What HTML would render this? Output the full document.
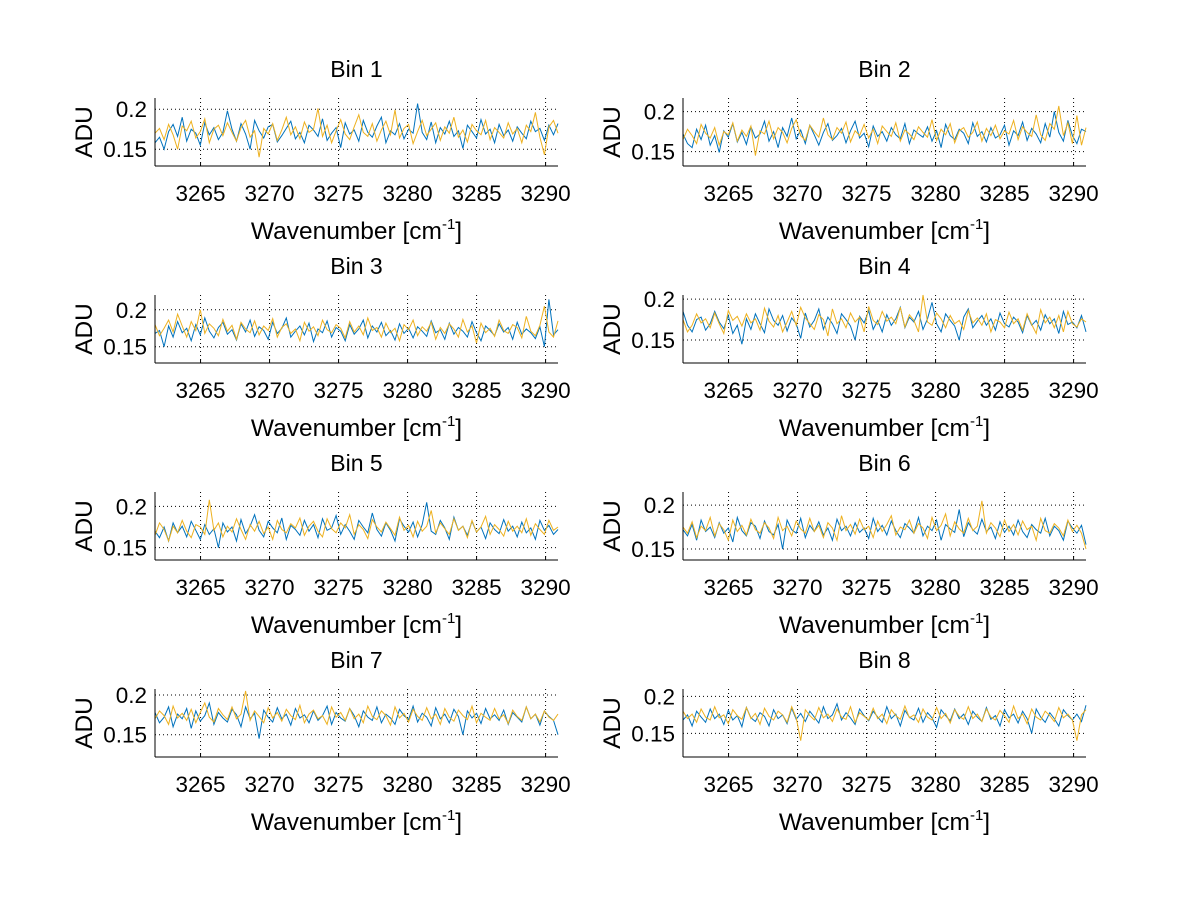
<!DOCTYPE html>
<html><head><meta charset="utf-8"><style>
body{margin:0;background:#fff;font-family:"Liberation Sans",sans-serif;}
svg text{font-family:"Liberation Sans",sans-serif;fill:#000;}
</style></head><body>
<svg id="fig" width="1200" height="901" xmlns="http://www.w3.org/2000/svg"></svg>
<script>
// values in units of 1e-3 ADU
const xTicks = [3265,3270,3275,3280,3285,3290];
const yTicks = [0.15,0.2];
const xMin = 3261.7, xMax = 3290.9;
const binTitles = ["Bin 1","Bin 2","Bin 3","Bin 4","Bin 5","Bin 6","Bin 7","Bin 8"];
const yLimits = [[0.129,0.214],[0.132,0.217],[0.128,0.22],[0.122,0.205],[0.135,0.2175],[0.1375,0.215],[0.122,0.2075],[0.118,0.21]];
const blue1=[158,165,150,172,181,166,190,160,175,170,155,183,168,177,162,171,198,175,160,182,169,150,186,173,164,178,181,159,167,176,185,163,171,158,180,174,166,188,161,170,177,152,183,169,174,160,186,171,165,179,190,158,173,168,182,163,175,170,207,171,162,184,158,177,169,185,166,173,151,180,172,164,187,169,175,158,181,167,174,160,178,170,163,185,172,176,161,180,168,182];
const orange1=[170,176,162,181,168,150,179,173,185,164,172,188,158,175,180,167,183,171,160,177,186,165,173,140,176,169,182,161,174,190,168,178,163,184,171,175,201,166,180,158,173,187,169,162,178,193,171,166,182,160,174,185,168,199,164,176,181,157,172,186,167,175,183,161,178,170,190,165,174,159,181,173,168,186,162,177,171,164,183,169,176,158,180,172,196,165,143,178,186,170];
const blue2=[172,160,155,178,165,183,158,170,149,176,168,185,162,174,159,181,167,172,188,163,175,155,180,169,192,166,177,160,183,171,158,174,185,164,170,179,161,176,188,167,173,156,182,169,175,163,180,171,166,185,160,177,172,168,181,163,176,155,184,170,165,178,173,160,186,169,175,162,180,167,171,183,158,176,170,187,164,179,172,161,185,168,200,174,163,189,170,160,178,175];
const orange2=[165,178,170,160,184,173,167,180,158,175,171,186,163,177,169,182,145,176,172,188,166,180,174,161,179,190,170,164,183,175,168,192,171,165,180,173,187,162,176,170,184,167,178,160,182,175,169,186,163,177,172,165,181,174,168,190,164,178,171,185,161,176,180,168,174,187,163,179,170,183,166,176,172,189,165,181,174,169,196,171,164,185,178,207,170,186,160,195,158,180];
const blue3=[168,172,150,178,163,184,169,175,158,180,166,189,171,162,176,183,167,173,159,181,170,186,164,177,172,160,183,168,175,189,163,171,178,166,182,157,174,169,185,163,176,171,158,180,167,174,186,162,178,170,183,165,172,159,181,168,175,162,177,171,164,185,169,173,160,182,167,176,171,163,184,169,158,178,172,165,181,170,176,160,183,167,174,169,161,177,150,214,166,173];
const orange3=[180,165,175,186,170,194,178,163,184,172,200,168,181,175,165,187,171,179,160,183,174,169,185,166,178,172,188,163,176,181,168,174,158,183,171,177,165,186,173,169,180,175,162,184,170,178,166,189,172,176,163,182,169,175,158,180,173,186,165,177,171,183,160,176,168,181,174,163,187,170,178,155,182,169,175,164,186,172,168,180,176,162,191,171,165,179,205,170,163,185];
const blue4=[185,168,160,175,178,162,170,185,172,164,180,158,168,145,176,163,182,170,159,188,174,168,180,161,177,170,152,183,166,174,188,163,178,170,158,182,175,167,150,179,171,186,163,174,160,181,168,176,190,165,178,172,185,163,176,196,170,160,182,174,167,150,178,188,165,173,180,168,176,162,183,170,166,178,172,159,180,168,174,162,181,170,176,158,185,169,172,165,180,160];
const orange4=[175,160,168,182,171,176,165,183,170,158,186,174,179,167,182,171,176,162,189,173,166,180,160,172,185,168,190,177,170,163,181,175,155,188,170,176,165,183,172,178,160,191,174,169,185,173,178,170,190,166,181,174,160,205,172,168,183,176,165,180,170,174,163,186,171,177,168,182,160,175,172,165,184,170,176,162,182,169,158,187,171,178,165,180,160,185,170,166,176,172];
const blue5=[170,162,175,158,180,168,176,163,182,171,160,178,166,173,150,180,169,175,158,184,167,176,190,171,163,182,174,168,186,160,177,172,165,183,170,178,162,185,171,174,189,166,178,170,160,183,175,168,192,172,164,180,171,158,185,176,169,181,163,178,205,170,166,183,174,160,187,171,176,165,182,169,175,161,180,172,167,184,170,176,163,181,168,174,160,183,171,177,166,172];
const orange5=[165,180,172,158,176,168,183,170,162,178,175,166,208,171,180,163,176,169,185,172,160,178,170,182,167,175,160,183,172,168,179,174,186,165,176,182,170,163,185,173,168,180,174,190,166,178,172,161,184,175,169,181,173,165,187,171,177,163,182,170,176,195,168,180,173,166,185,171,176,162,183,169,175,188,166,178,172,164,182,170,176,168,185,165,179,172,166,183,171,175];
const blue6=[172,165,178,160,183,170,175,163,180,168,174,158,186,171,165,180,176,162,182,170,166,178,150,183,172,168,185,163,177,170,181,166,174,160,184,171,176,165,180,169,174,162,185,170,177,166,182,171,163,179,174,168,186,165,176,171,183,160,178,173,169,195,164,180,172,167,184,170,175,162,181,169,176,166,183,170,163,178,172,168,185,165,176,171,160,182,174,168,177,155];
const orange6=[175,168,181,163,176,171,186,165,179,172,160,183,170,177,166,184,172,168,180,174,162,186,171,176,165,182,173,168,185,170,177,163,180,174,160,188,171,178,167,184,172,176,163,182,170,178,188,166,175,172,183,168,179,174,162,186,171,177,190,165,181,173,168,185,171,176,205,168,180,174,164,183,170,178,166,182,172,176,160,185,171,168,179,174,165,183,170,177,168,150];
const blue7=[178,165,172,185,160,176,170,183,158,180,167,174,190,163,178,171,166,182,175,160,185,170,177,145,181,172,166,184,170,176,162,183,171,175,165,180,168,174,186,163,178,171,167,183,174,160,180,172,168,185,165,176,171,163,182,174,169,186,166,177,172,161,184,170,176,165,182,173,150,180,171,177,164,183,170,175,168,181,163,178,172,166,185,170,176,162,180,173,168,150];
const orange7=[170,180,174,163,186,171,177,168,182,165,178,190,172,166,183,175,169,185,170,176,205,168,180,173,165,184,171,178,167,182,174,169,187,165,176,181,170,174,163,185,172,178,168,183,170,176,165,186,173,169,180,174,162,185,171,177,166,182,173,168,184,170,176,163,183,172,167,181,174,169,186,165,177,172,168,183,170,175,164,181,173,168,185,170,176,166,180,172,168,176];
const blue8=[168,175,160,180,172,165,183,170,176,162,181,168,174,159,185,171,166,178,173,160,182,170,175,163,184,169,177,166,180,172,164,186,170,175,190,168,178,171,162,183,174,167,180,172,165,186,170,176,160,181,172,168,184,165,178,171,158,182,174,167,183,170,176,162,180,172,166,185,169,174,160,182,171,176,164,180,170,150,183,172,165,178,170,160,182,174,168,176,166,188];
const orange8=[180,170,176,165,183,172,168,186,171,175,163,182,174,169,185,170,177,162,184,173,168,180,175,165,186,171,140,182,174,168,185,171,176,166,183,172,169,186,165,178,173,168,184,170,176,163,182,174,169,187,171,175,165,183,172,168,185,170,177,164,182,173,169,186,170,176,166,183,172,168,181,174,165,187,170,176,163,183,172,168,180,174,166,185,171,176,168,140,175,182];
const blueSeries=[blue1,blue2,blue3,blue4,blue5,blue6,blue7,blue8];
const orangeSeries=[orange1,orange2,orange3,orange4,orange5,orange6,orange7,orange8];

const NS="http://www.w3.org/2000/svg";
const svg=document.getElementById('fig');
const colLeft=[155,683], axW=403, rowTop=[98,295,492,689], axH=68;
function mk(tag,attrs,parent){const e=document.createElementNS(NS,tag);for(const k in attrs)e.setAttribute(k,attrs[k]);(parent||svg).appendChild(e);return e;}
for(let p=0;p<8;p++){
  const L=colLeft[p%2], T=rowTop[Math.floor(p/2)], B=T+axH, R=L+axW;
  const [y0,y1]=yLimits[p];
  const sx=v=>L+(v-xMin)/(xMax-xMin)*axW;
  const sy=v=>B-(v-y0)/(y1-y0)*axH;
  const g=mk('g',{});
  
  
  const t=mk('text',{x:L+axW/2,y:T-21,'text-anchor':'middle','font-size':23},g);t.textContent=binTitles[p];
  
  
  xTicks.forEach(v=>{const x=sx(v);
    mk('line',{x1:x,x2:x,y1:T,y2:B,stroke:'#000','stroke-width':1,'stroke-dasharray':'1,3'},g);
    mk('line',{x1:x,x2:x,y1:B,y2:B-4,stroke:'#000'},g);
    const tl=mk('text',{x:x,y:B+35,'text-anchor':'middle','font-size':22.5},g);tl.textContent=v;
    
    });
  yTicks.forEach(v=>{const y=sy(v);
    mk('line',{x1:L,x2:R,y1:y,y2:y,stroke:'#000','stroke-width':1,'stroke-dasharray':'1,3'},g);
    const tl=mk('text',{x:L-8,y:y+8,'text-anchor':'end','font-size':22.5},g);tl.textContent=v;
    
    });
  [blueSeries[p],orangeSeries[p]].forEach((s,k)=>{
    const n=s.length;
    const pts=s.map((v,i)=>sx(xMin+i*(xMax-xMin)/(n-1)).toFixed(1)+','+sy(v/1000).toFixed(1)).join(' ');
    const pl=mk('polyline',{points:pts,fill:'none',stroke:k?'#EDB120':'#0072BD','stroke-width':1},g);
    
    
  });
  mk('line',{x1:L,x2:L,y1:T,y2:B,stroke:'#000'},g);
  mk('line',{x1:L,x2:R,y1:B,y2:B,stroke:'#000'},g);
  const xl=mk('text',{x:L+axW/2,y:B+73,'text-anchor':'middle','font-size':24.5},g);
  xl.innerHTML='Wavenumber [cm<tspan dy="-10" font-size="15">-1</tspan><tspan dy="10">]</tspan>';
  
  
  const yl=mk('text',{x:0,y:0,'text-anchor':'middle','font-size':24.5,transform:`translate(${L-63},${T+axH/2}) rotate(-90)`},g);yl.textContent='ADU';
  
  
}
</script>
</body></html>
